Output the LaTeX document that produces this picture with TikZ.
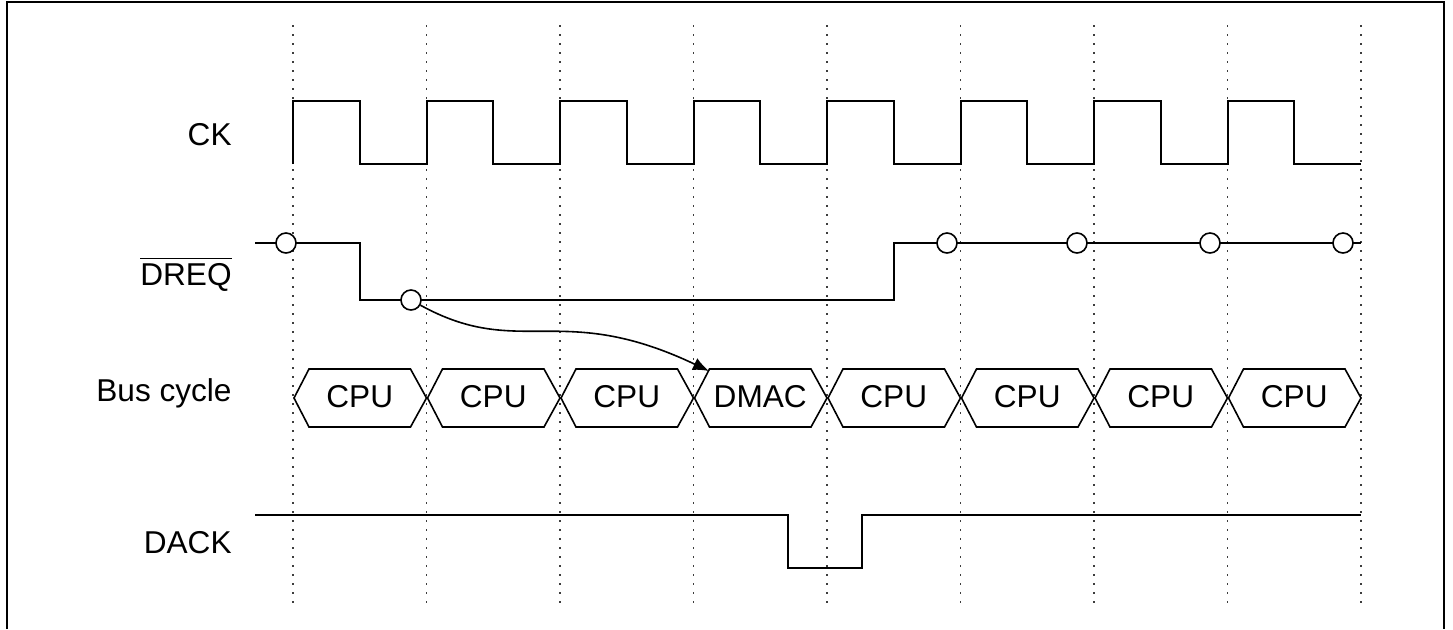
\documentclass[tikz,border=0pt]{standalone}
\usepackage{amsmath}
\usepackage{fontspec}
\setmainfont{Liberation Sans}
\usetikzlibrary{arrows.meta,calc}
\usepackage{xcolor}
\definecolor{sigcol}{RGB}{0,0,0}
\definecolor{gridcol}{RGB}{60,60,60}
\tikzset{
  % signal waveform
  sigline/.style={draw=sigcol, line width=1pt, line join=miter},
  % clock edge guide
  gridline/.style={draw=gridcol, line width=0.9pt, dash pattern=on 0.8pt off 3.7pt},
  % sampling point on DREQ
  pinode/.style={circle, draw=sigcol, fill=white, line width=0.8pt, minimum size=10pt, inner sep=0pt},
  % bus cycle cell outline
  buscell/.style={draw=sigcol, line width=0.8pt, line join=miter},
  % text inside a cell
  celltext/.style={inner sep=0pt, font=\fontsize{15.8}{18}\selectfont},
  % row label
  siglabel/.style={anchor=base east, inner sep=0pt, font=\fontsize{15.8}{18}\selectfont},
  % request arrow
  reqarrow/.style={-{Latex[length=8pt,width=6.5pt]}, line width=0.8pt, draw=sigcol},
}

\begin{document}
\begin{tikzpicture}[x=0.5pt, y=-0.5pt]
  \useasboundingbox (0,0) rectangle (1453,629);
  % frame
  \draw[line width=1pt] (7,629) -- (7,2) -- (1444,2) -- (1444,629);
  % clock guides
  \foreach \i in {0,...,8}
    \draw[gridline] ({293+133.5*\i},25) -- ({293+133.5*\i},605);

  % row labels
  \node[siglabel] (ck) at (232,145) {CK};
  \node[siglabel] (dreq) at (232,285) {$\overline{\text{DREQ}}$};
  \node[siglabel] (bus) at (232,401) {Bus cycle};
  \node[siglabel] (dack) at (232,553) {DACK};

  % CK
  \draw[sigline] (293,164) \foreach \i in {0,...,7} {
    -- ({293+133.5*\i},101) -- ({359.75+133.5*\i},101)
    -- ({359.75+133.5*\i},164) -- ({426.5+133.5*\i},164) };

  % DREQ
  \draw[sigline] (255,243) -- (360,243) -- (360,300) -- (894,300) -- (894,243) -- (1361,243);
  \node[pinode] (s1) at (286,243) {};
  \node[pinode] (s2) at (411,300) {};
  \node[pinode] (s3) at (947,243) {};
  \node[pinode] (s4) at (1077,243) {};
  \node[pinode] (s5) at (1210,243) {};
  \node[pinode] (s6) at (1343,243) {};

  % bus cycles
  \foreach \i/\txt in {0/CPU,1/CPU,2/CPU,3/DMAC,4/CPU,5/CPU,6/CPU,7/CPU} {
    \draw[buscell] ({294+133.5*\i},398) -- ({309+133.5*\i},369) -- ({410.5+133.5*\i},369)
      -- ({426.5+133.5*\i},398) -- ({410.5+133.5*\i},427) -- ({309+133.5*\i},427) -- cycle;
    \node[celltext] (cyc\i) at ({359.75+133.5*\i},397) {\txt};
  }

  % DREQ low sampled -> DMAC cycle
  \coordinate (dmactip) at (709,371);
  \draw[reqarrow] (s2) .. controls (520,360) and (560,300) .. (dmactip);

  % DACK
  \draw[sigline] (255,515) -- (788,515) -- (788,568) -- (862,568) -- (862,515) -- (1361,515);
\end{tikzpicture}
\end{document}
